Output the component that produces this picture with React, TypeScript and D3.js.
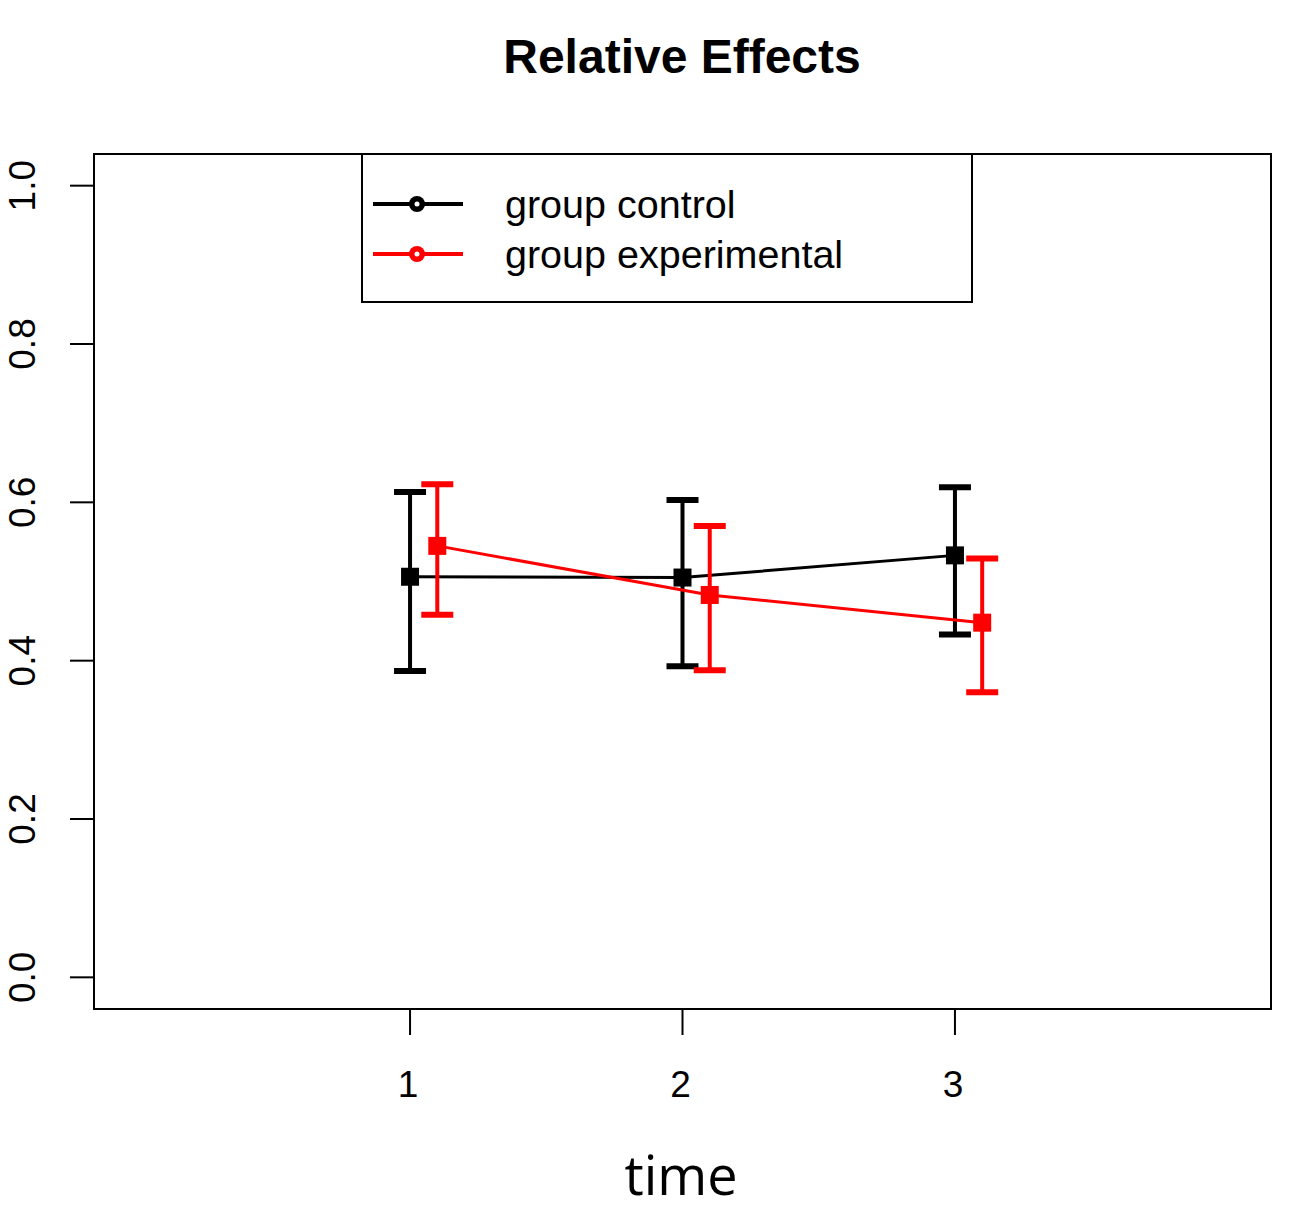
import * as d3 from 'd3';

const timePoints = [1, 2, 3];
const controlMean = [0.506, 0.505, 0.533];
const controlLower = [0.387, 0.393, 0.433];
const controlUpper = [0.613, 0.603, 0.619];
const expMean = [0.545, 0.483, 0.448];
const expLower = [0.458, 0.388, 0.36];
const expUpper = [0.623, 0.57, 0.529];
const yTicks = [0, 0.2, 0.4, 0.6, 0.8, 1.0];
const legendLabels = ['group control', 'group experimental'];

const W = 1299;
const H = 1219;
const box = { left: 94, right: 1271, top: 154, bottom: 1009 };

export default function App() {
  const x = d3.scaleLinear().domain([-0.16, 4.16]).range([box.left, box.right]);
  const y = d3.scaleLinear().domain([-0.04, 1.04]).range([box.bottom, box.top]);

  const series = [
    { color: '#000000', offset: 0, mean: controlMean, lo: controlLower, hi: controlUpper },
    { color: '#ff0000', offset: 0.1, mean: expMean, lo: expLower, hi: expUpper },
  ];

  const line = d3.line<[number, number]>().x(d => x(d[0])).y(d => y(d[1]));
  const cap = 16;

  return (
    <svg width={W} height={H} style={{ position: 'absolute', left: 0, top: 0, background: '#fff' }}
      fontFamily="'Liberation Sans', Arial, sans-serif">
      <text x={682} y={73} textAnchor="middle" fontSize={48} fontWeight="bold">Relative Effects</text>

      {/* series */}
      {series.map((s, si) => {
        const pts = timePoints.map((t, i) => [t + s.offset, s.mean[i]] as [number, number]);
        return (
          <g key={si}>
            <path d={line(pts) ?? ''} fill="none" stroke={s.color} strokeWidth={3} />
            {timePoints.map((t, i) => {
              const cx = x(t + s.offset);
              return (
                <g key={i}>
                  <line x1={cx} x2={cx} y1={y(s.lo[i])} y2={y(s.hi[i])} stroke={s.color} strokeWidth={4} />
                  <line x1={cx - cap} x2={cx + cap} y1={y(s.lo[i])} y2={y(s.lo[i])} stroke={s.color} strokeWidth={6} />
                  <line x1={cx - cap} x2={cx + cap} y1={y(s.hi[i])} y2={y(s.hi[i])} stroke={s.color} strokeWidth={6} />
                  <rect x={cx - 9} y={y(s.mean[i]) - 9} width={18} height={18} fill={s.color} />
                </g>
              );
            })}
          </g>
        );
      })}

      {/* legend */}
      <rect x={362} y={box.top} width={610} height={148} fill="#fff" stroke="#000" strokeWidth={2} />
      {legendLabels.map((lab, i) => {
        const ly = 204 + i * 50;
        const col = series[i].color;
        return (
          <g key={lab}>
            <line x1={373} x2={463} y1={ly} y2={ly} stroke={col} strokeWidth={4} />
            <circle cx={417} cy={ly} r={8} fill={col} />
            <circle cx={417} cy={ly} r={2.5} fill="#fff" />
            <text x={505} y={ly + 14} fontSize={39.5}>{lab}</text>
          </g>
        );
      })}

      {/* frame */}
      <rect x={box.left} y={box.top} width={box.right - box.left} height={box.bottom - box.top}
        fill="none" stroke="#000" strokeWidth={2} />

      {/* y axis */}
      {yTicks.map(t => (
        <g key={t}>
          <line x1={box.left - 24} x2={box.left} y1={y(t)} y2={y(t)} stroke="#000" strokeWidth={2} />
          <text transform={`translate(35, ${y(t)}) rotate(-90)`} textAnchor="middle" fontSize={37}>
            {t.toFixed(1)}
          </text>
        </g>
      ))}

      {/* x axis */}
      {timePoints.map(t => (
        <g key={t}>
          <line x1={x(t)} x2={x(t)} y1={box.bottom} y2={box.bottom + 26} stroke="#000" strokeWidth={2} />
          <text x={x(t) - 2} y={1097} textAnchor="middle" fontSize={37}>{t}</text>
        </g>
      ))}
      <text x={681} y={1195} textAnchor="middle" fontSize={54} fontFamily="'Open Sans', 'DejaVu Sans', sans-serif">time</text>
    </svg>
  );
}
